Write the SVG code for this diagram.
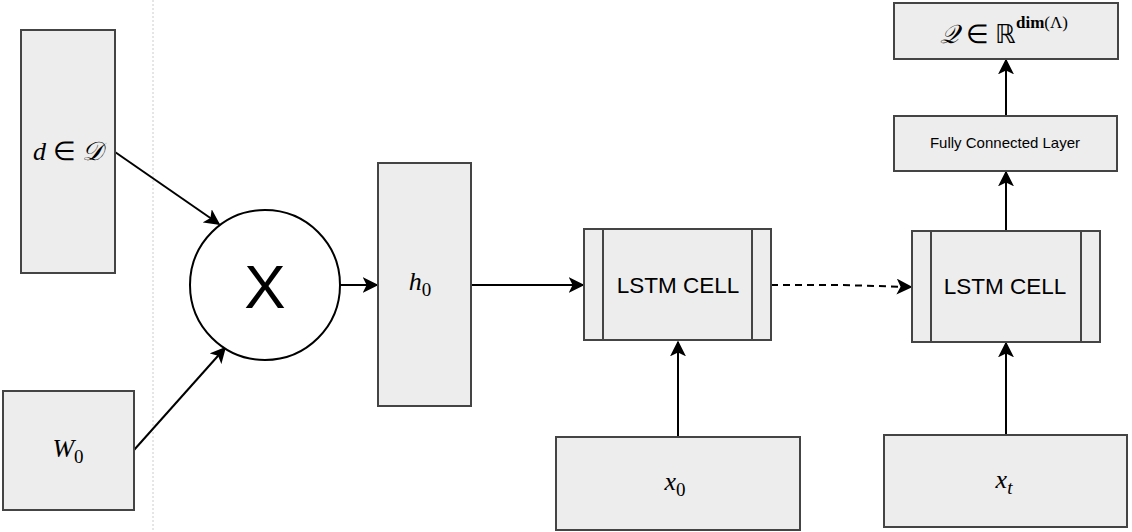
<svg xmlns="http://www.w3.org/2000/svg" width="1132" height="532" viewBox="0 0 1132 532">
<defs>
<style>
.box{fill:#ededed;stroke:#444;stroke-width:2}
.ln{stroke:#000;stroke-width:2;fill:none}
.math{font-family:"Liberation Serif",serif;font-style:italic;font-size:26px;fill:#000}
.sub{font-style:normal;font-size:19px}
.sans{font-family:"Liberation Sans",Arial,sans-serif;fill:#000}
</style>
<marker id="ahb" viewBox="0 0 10 10" refX="9" refY="5" markerWidth="16" markerHeight="16" markerUnits="userSpaceOnUse" orient="auto">
<path d="M0,0 L10,5 L0,10 L2.5,5 z" fill="#000"/>
</marker>
</defs>
<rect width="1132" height="532" fill="#fff"/>
<line x1="153" y1="0" x2="153" y2="532" stroke="#ccc" stroke-width="1" stroke-dasharray="2,2"/>

<g id="connectors">
<line class="ln" x1="115" y1="152" x2="219" y2="224" marker-end="url(#ahb)"/>
<line class="ln" x1="134" y1="450" x2="225" y2="348" marker-end="url(#ahb)"/>
<line class="ln" x1="340" y1="285" x2="377" y2="285" stroke-width="3" marker-end="url(#ahb)"/>
<line class="ln" x1="471" y1="285" x2="583" y2="285" marker-end="url(#ahb)"/>
<polyline class="ln" points="771,285 840,285 911,287" stroke-dasharray="7,5" marker-end="url(#ahb)"/>
<line class="ln" x1="678" y1="437" x2="678" y2="342" marker-end="url(#ahb)"/>
<line class="ln" x1="1006" y1="435" x2="1006" y2="343" marker-end="url(#ahb)"/>
<line class="ln" x1="1006" y1="231" x2="1006" y2="172" marker-end="url(#ahb)"/>
<line class="ln" x1="1006" y1="116" x2="1006" y2="60" marker-end="url(#ahb)"/>
</g>

<g id="node-d">
<rect class="box" x="21" y="30" width="94" height="243"/>
<text class="math" x="68" y="160" text-anchor="middle">d <tspan font-style="normal">∈</tspan> 𝒟</text>
</g>

<g id="node-w0">
<rect class="box" x="3" y="391" width="131" height="119"/>
<text class="math" x="68" y="457" text-anchor="middle">W<tspan class="sub" dy="6">0</tspan></text>
</g>

<g id="node-mult">
<circle cx="265" cy="285" r="75" fill="#fff" stroke="#000" stroke-width="2"/>
<text class="sans" x="265" y="308" font-size="62" text-anchor="middle">X</text>
</g>

<g id="node-h0">
<rect class="box" x="378" y="163" width="93" height="243"/>
<text class="math" x="420" y="290" text-anchor="middle">h<tspan class="sub" dy="6">0</tspan></text>
</g>

<g id="node-lstm1">
<rect class="box" x="584" y="229" width="187" height="111"/>
<line x1="603" y1="229" x2="603" y2="340" stroke="#444" stroke-width="2"/>
<line x1="752" y1="229" x2="752" y2="340" stroke="#444" stroke-width="2"/>
<text class="sans" x="678" y="293" font-size="22.5" text-anchor="middle">LSTM CELL</text>
</g>

<g id="node-lstm2">
<rect class="box" x="912" y="231" width="188" height="111"/>
<line x1="931" y1="231" x2="931" y2="342" stroke="#444" stroke-width="2"/>
<line x1="1081" y1="231" x2="1081" y2="342" stroke="#444" stroke-width="2"/>
<text class="sans" x="1005" y="294" font-size="22.5" text-anchor="middle">LSTM CELL</text>
</g>

<g id="node-x0">
<rect class="box" x="556" y="437" width="244" height="93"/>
<text class="math" x="675" y="490" text-anchor="middle">x<tspan class="sub" dy="6">0</tspan></text>
</g>

<g id="node-xt">
<rect class="box" x="884" y="435" width="243" height="92"/>
<text class="math" x="1004" y="488" text-anchor="middle">x<tspan font-size="19" dy="6">t</tspan></text>
</g>

<g id="node-fc">
<rect class="box" x="894" y="116" width="223" height="55"/>
<text class="sans" x="1005" y="148" font-size="15" text-anchor="middle">Fully Connected Layer</text>
</g>

<g id="node-q">
<rect class="box" x="894" y="3" width="224" height="56"/>
<text class="math" x="1004" y="43" text-anchor="middle">𝒬 <tspan font-style="normal">∈ ℝ</tspan><tspan font-style="normal" font-size="17" dy="-15"><tspan font-weight="bold">dim</tspan>(Λ)</tspan></text>
</g>
</svg>
